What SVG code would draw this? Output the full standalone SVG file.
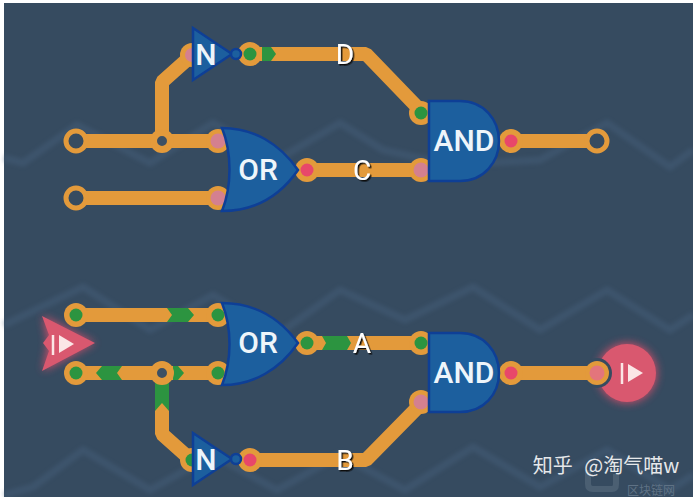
<svg xmlns="http://www.w3.org/2000/svg" width="693" height="497" viewBox="0 0 693 497">
<style>
text{font-family:Roboto,"Noto Sans",sans-serif;text-anchor:middle}
.wire{fill:none;stroke:#e39a3b;stroke-width:14;stroke-linejoin:bevel}
.pin{fill:#e39a3b}
.ring{fill:#364b60;stroke:#e39a3b;stroke-width:5}
.jn{fill:#3d5064;stroke:#e39a3b;stroke-width:7}
.pk{fill:#d4808f}.gr{fill:#2c9440}.rd{fill:#e8476a}
.sig{fill:#2c9440}
.gate{fill:#1c5f9e;stroke:#0e3f96;stroke-width:2.5}
.gt{fill:#eef5fa;font-size:30px;font-weight:500}
.lb{fill:#fff;font-size:28px;filter:url(#ts)}
.wave{fill:none;stroke:#4a6480;stroke-width:7;opacity:.4;filter:url(#soft)}
</style>
<defs>
<filter id="glow" x="-40%" y="-40%" width="180%" height="180%"><feGaussianBlur stdDeviation="4.5"/></filter>
<filter id="soft" x="-5%" y="-30%" width="110%" height="160%"><feGaussianBlur stdDeviation="2"/></filter>
<filter id="ts" x="-30%" y="-30%" width="160%" height="160%"><feDropShadow dx="1.5" dy="1.5" stdDeviation=".4" flood-color="#111"/></filter>
</defs>
<rect width="693" height="497" fill="#fff"/>
<rect x="4" y="3" width="689" height="494" fill="#364b60"/>
<g id="background">
<path class="wave" d="M4 158L23 163 77 125 150 163 213 123 277 160 340 123 383 150 450 165 540 160 607 123 670 167 693 150"/>
<path class="wave" d="M4 325L83 287 150 330 213 295 277 335 340 290 405 320 473 287 540 330 607 290 670 330 693 315"/>
<path class="wave" d="M4 495L33 487 83 450 150 490 213 455 277 490 340 455 405 490 473 447 540 487 607 450 670 490 693 475"/>
</g>
<g id="start-triangle">
<path d="M43 316L95 343 43 371 48 343Z" fill="#e8506c" filter="url(#glow)" opacity=".8"/>
<path d="M42 316L95 343 42 371 49 351 43 343 49 335Z" fill="#d9586f"/>
<path d="M53 335V355" stroke="#fbe6e6" stroke-width="2.5"/>
<path d="M59 335L74 344 59 353Z" fill="#fbe6e6"/>
</g>
<g id="end-circle">
<circle cx="627" cy="373" r="30" fill="#e8506c" filter="url(#glow)" opacity=".8"/>
<circle cx="627" cy="373" r="29" fill="#d9586f"/>
<circle cx="597" cy="373" r="15" fill="#364b60"/>
<path d="M622 363V384" stroke="#fbe6e6" stroke-width="2.5"/>
<path d="M628 364L643 373 628 382Z" fill="#fbe6e6"/>
</g>
<g id="connectors">
<path class="wire" d="M76 141H218"/>
<path class="wire" d="M76 198H218"/>
<path class="wire" d="M162 141V82L190 57"/>
<path class="wire" d="M250 54H366L421 111"/>
<path class="wire" d="M307 170H421"/>
<path class="wire" d="M511 141H597"/>
<path class="wire" d="M76 315H218"/>
<path class="wire" d="M76 373H218"/>
<path class="wire" d="M162 373V434L190 459"/>
<path class="wire" d="M250 460H366L421 404"/>
<path class="wire" d="M307 343H421"/>
<path class="wire" d="M511 373H597"/>
<path class="sig" d="M262 47H271L276 54 271 61H262Z"/>
<path class="sig" d="M167 308H188L194 315 188 322H167L172 315Z"/>
<path class="sig" d="M102 366H122L117 373 122 380H102L96 373Z"/>
<path class="sig" d="M173 366H178L184 373 178 380H173Z"/>
<path class="sig" d="M155 380H169V411L162 403 155 411Z"/>
<path class="sig" d="M322 336H347L351 343 347 350H322L326 343Z"/>
</g>
<g id="in-top-1"><circle class="ring" cx="76" cy="141" r="10"/></g>
<g id="in-top-2"><circle class="ring" cx="76" cy="198" r="10"/></g>
<g id="junction-top"><circle class="jn" cx="162" cy="141" r="8.5"/></g>
<g id="out-top"><circle class="ring" cx="597" cy="141" r="10"/></g>
<g id="in-bottom-1"><circle class="pin" cx="76" cy="315" r="12"/><circle class="gr" cx="76" cy="315" r="6.5"/></g>
<g id="in-bottom-2"><circle class="pin" cx="76" cy="373" r="12"/><circle class="gr" cx="76" cy="373" r="6.5"/></g>
<g id="junction-bottom"><circle class="jn" cx="162" cy="373" r="8.5"/></g>
<g id="out-bottom"><circle class="pin" cx="597" cy="373" r="12"/><circle cx="597" cy="373" r="7.5" fill="#e3757c"/></g>
<g id="not-top">
<circle class="pin" cx="192" cy="55" r="12"/><circle class="pk" cx="192" cy="55" r="7"/>
<circle class="pin" cx="250" cy="54" r="12"/><circle class="gr" cx="250" cy="54" r="6.5"/>
<path class="gate" d="M193 28L232 54 193 80Z"/>
<circle class="gate" cx="236" cy="54" r="5"/>
<text class="gt" x="206" y="65">N</text>
</g>
<g id="or-top">
<circle class="pin" cx="218" cy="141" r="12"/><circle class="pk" cx="218" cy="141" r="7.5"/>
<circle class="pin" cx="218" cy="198" r="12"/><circle class="pk" cx="218" cy="198" r="7.5"/>
<circle class="pin" cx="307" cy="170" r="12"/><circle class="rd" cx="307" cy="170" r="6.5"/>
<path class="gate" d="M222 128C254 128 280 144 298 170 280 196 254 211 222 211 232 186 232 153 222 128Z"/>
<text class="gt" x="258" y="180">OR</text>
</g>
<g id="and-top">
<circle class="pin" cx="421" cy="113" r="12"/><circle class="gr" cx="421" cy="113" r="6.5"/>
<circle class="pin" cx="421" cy="170" r="12"/><circle class="pk" cx="421" cy="170" r="7.5"/>
<circle class="pin" cx="511" cy="141" r="12"/><circle class="rd" cx="511" cy="141" r="6.5"/>
<path class="gate" d="M429 101H460C484 101 499 120 499 141 499 162 484 181 460 181H429Z"/>
<text class="gt" x="464" y="151">AND</text>
</g>
<g id="or-bottom">
<circle class="pin" cx="218" cy="315" r="12"/><circle class="gr" cx="218" cy="315" r="6.5"/>
<circle class="pin" cx="218" cy="373" r="12"/><circle class="gr" cx="218" cy="373" r="6.5"/>
<circle class="pin" cx="307" cy="343" r="12"/><circle class="gr" cx="307" cy="343" r="6.5"/>
<path class="gate" d="M222 303C254 303 280 318 298 343 280 369 254 385 222 385 232 360 232 328 222 303Z"/>
<text class="gt" x="258" y="353">OR</text>
</g>
<g id="and-bottom">
<circle class="pin" cx="421" cy="343" r="12"/><circle class="gr" cx="421" cy="343" r="6.5"/>
<circle class="pin" cx="421" cy="402" r="12"/><circle class="pk" cx="421" cy="402" r="7.5"/>
<circle class="pin" cx="511" cy="373" r="12"/><circle class="rd" cx="511" cy="373" r="6.5"/>
<path class="gate" d="M429 333H460C484 333 499 352 499 373 499 394 484 412 460 412H429Z"/>
<text class="gt" x="464" y="383">AND</text>
</g>
<g id="not-bottom">
<circle class="pin" cx="192" cy="460" r="12"/><circle class="gr" cx="192" cy="460" r="6.5"/>
<circle class="pin" cx="250" cy="460" r="12"/><circle class="rd" cx="250" cy="460" r="6.5"/>
<path class="gate" d="M193 433L232 459 193 485Z"/>
<circle class="gate" cx="236" cy="459" r="5"/>
<text class="gt" x="206" y="470">N</text>
</g>
<g id="labels">
<text class="lb" x="345" y="64">D</text>
<text class="lb" x="362" y="180">C</text>
<text class="lb" x="362" y="353">A</text>
<text class="lb" x="345" y="470">B</text>
</g>
<g id="watermark">
<path d="M588 470V484Q588 489 593 489H612Q616 489 616 484V474" fill="none" stroke="#54687b" stroke-width="6" opacity=".7"/>
<text x="651" y="495" style='font-family:"Noto Sans CJK SC",sans-serif;font-size:12px' fill="#5f7285">区块链网</text>
<text x="606" y="473" style='font-family:"Noto Sans CJK SC",sans-serif;font-size:20px;word-spacing:7px' fill="#e6e8ea">知乎 @淘气喵w</text>
</g>
</svg>
